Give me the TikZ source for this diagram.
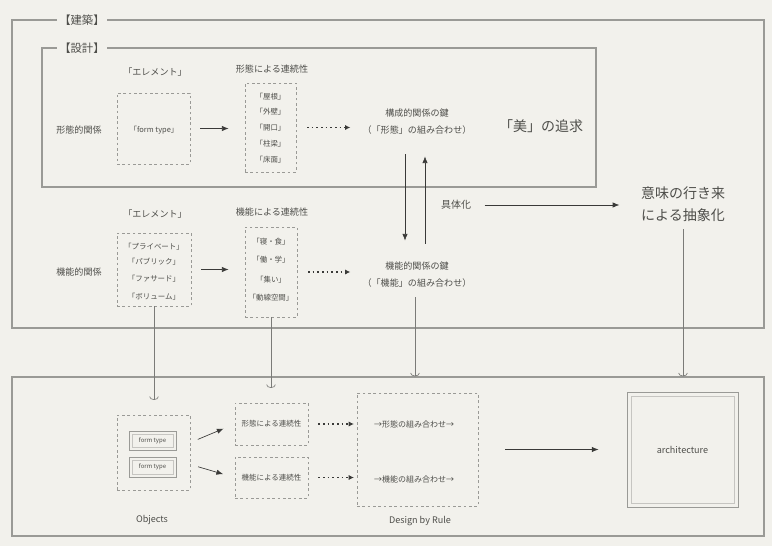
\documentclass[tikz,border=0pt]{standalone}
\usepackage{fontspec}
\setmainfont{Noto Sans CJK JP}
\usetikzlibrary{arrows.meta,fit,calc}
\definecolor{bg}{HTML}{F2F1EC}
\definecolor{frm}{HTML}{9A9A96}
\definecolor{ink}{HTML}{4E4E4A}
\definecolor{dk}{HTML}{3A3A38}
\tikzset{
  frame/.style={draw=frm, line width=1pt, inner sep=0pt},
  lbl/.style={fill=bg, text=ink, font=\fontsize{8.5}{10}\selectfont, inner xsep=2pt, inner ysep=1pt},
  dbox/.style={draw=frm, dash pattern=on 2pt off 2pt, line width=0.6pt, inner sep=0pt},
  obox/.style={draw=frm, line width=0.7pt, inner sep=0pt},
  ibox/.style={draw=frm!50!bg, line width=0.4pt, inner sep=0pt},
  txt/.style={text=ink, font=\fontsize{6.8}{8}\selectfont, inner sep=1pt},
  keytxt/.style={text=ink, font=\fontsize{6.8}{12.75}\selectfont, inner sep=1pt, align=center},
  item/.style={text=ink, font=\fontsize{5.6}{7}\selectfont, inner sep=1pt},
  tinytxt/.style={text=ink, font=\fontsize{4.5}{5}\selectfont, inner sep=0.5pt},
  bigtxt/.style={text=ink, font=\fontsize{10.5}{16.5}\selectfont, align=center, inner sep=1pt},
  arr/.style={draw=dk, line width=0.5pt, -{Latex[length=5pt,width=4pt]}},
  dotarr/.style={draw=dk, line width=1.2pt, dash pattern=on 1.2pt off 2.3pt, -{Latex[length=4pt,width=4pt]}},
  link/.style={draw=frm!80!black, line width=0.5pt, -{Arc Barb[length=2.5pt,width=7pt]}}
}
\begin{document}
\begin{tikzpicture}[x=0.75pt,y=-0.75pt]
\fill[bg] (0,0) rectangle (772,546);
\useasboundingbox (0,0) rectangle (772,546);

% frames
\node[frame, fit={(12,20)(764,328)}] (outer) {};
\node[lbl] (outerlbl) at (82,20) {【建築】};
\node[frame, fit={(42,48)(596,187)}] (inner) {};
\node[lbl] (innerlbl) at (82,48) {【設計】};
\node[frame, fit={(12,377)(764,536)}] (bottom) {};

% row 1
\node[txt] (rel1) at (79,130) {形態的関係};
\node[txt] (el1h) at (155,72) {「エレメント」};
\node[dbox, fit={(117,93)(190,164)}] (el1) {};
\node[item] (ft1) at (154,130) {「form type」};
\node[txt] (seq1h) at (272,69) {形態による連続性};
\node[dbox, fit={(245,83)(296,172)}] (seq1) {};
\node[item] (s1a) at (270.5,97) {「屋根」};
\node[item] (s1b) at (270.5,112) {「外壁」};
\node[item] (s1c) at (270.5,128) {「開口」};
\node[item] (s1d) at (270.5,144) {「柱梁」};
\node[item] (s1e) at (270.5,160) {「床面」};
\draw[arr, shorten <=7.5pt, shorten >=12pt] (el1.east) -- (el1.east -| seq1.west);
\node[keytxt] (key1) at (417,122) {構成的関係の鍵\\（「形態」の組み合わせ）};
\draw[dotarr, shorten <=8pt, shorten >=8pt] (seq1.east) -- (seq1.east -| key1.west);
\node[bigtxt] (beauty) at (541,126) {「美」の追求};

% row 2
\node[txt] (rel2) at (79,272) {機能的関係};
\node[txt] (el2h) at (155,214) {「エレメント」};
\node[dbox, fit={(117,233)(191,306)}] (el2) {};
\node[item] (e2a) at (154,247) {「プライベート」};
\node[item] (e2b) at (154,262) {「パブリック」};
\node[item] (e2c) at (154,279) {「ファサード」};
\node[item] (e2d) at (154,297) {「ボリューム」};
\node[txt] (seq2h) at (272,212) {機能による連続性};
\node[dbox, fit={(245,227)(297,317)}] (seq2) {};
\node[item] (s2a) at (271,242) {「寝・食」};
\node[item] (s2b) at (271,260) {「働・学」};
\node[item] (s2c) at (271,280) {「集い」};
\node[item] (s2d) at (271,298) {「動線空間」};
\draw[arr, shorten <=7.5pt, shorten >=12pt] (el2.east) -- (el2.east -| seq2.west);
\node[keytxt] (key2) at (417,275) {機能的関係の鍵\\（「機能」の組み合わせ）};
\draw[dotarr, shorten <=8pt, shorten >=8pt] (seq2.east) -- (seq2.east -| key2.west);

% vertical arrows between keys
\draw[arr] ($(key1.south)+(-12,18)$) -- ($(key2.north)+(-12,-20)$);
\draw[arr] ($(key2.north)+(8,-17)$) -- ($(key1.south)+(8,20)$);

% concretization / abstraction
\node[txt, font=\fontsize{7.5}{9}\selectfont] (concr) at (456,205) {具体化};
\node[bigtxt] (abs) at (683,204) {意味の行き来\\による抽象化};
\draw[arr, shorten <=9pt, shorten >=15pt] (concr.east) -- (concr.east -| abs.west);

% bottom frame contents
\node[dbox, fit={(117,415)(190,490)}] (objs) {};
\node[obox, fit={(129,431)(176,450)}] (o1) {};
\node[ibox, fit={(132,434)(173,447)}] (o1i) {};
\node[tinytxt] (o1t) at (o1.center) {form type};
\node[obox, fit={(129,457)(176,477)}] (o2) {};
\node[ibox, fit={(132,460)(173,474)}] (o2i) {};
\node[tinytxt] (o2t) at (o2.center) {form type};
\node[txt] (objl) at (152,520) {Objects};

\node[dbox, fit={(235,403)(308,445)}] (b1) {};
\node[item] (b1t) at (b1.center) {形態による連続性};
\node[dbox, fit={(235,457)(308,498)}] (b2) {};
\node[item] (b2t) at (b2.center) {機能による連続性};
\draw[arr, shorten <=6pt, shorten >=9pt] ($(objs.east)+(0,-10)$) -- (b1.west);
\draw[arr, shorten <=6pt, shorten >=9pt] ($(objs.east)+(0,12)$) -- (b2.west);

\node[dbox, fit={(357,393)(478,506)}] (rule) {};
\node[item, font=\fontsize{6}{7}\selectfont] (r1) at (414,424) {→形態の組み合わせ→};
\node[item, font=\fontsize{6}{7}\selectfont] (r2) at (414,479) {→機能の組み合わせ→};
\node[txt] (rulel) at (420,521) {Design by Rule};
\draw[dotarr, shorten <=7.5pt, shorten >=2pt] (b1.east) -- (b1.east -| rule.west);
\draw[dotarr, shorten <=7.5pt, shorten >=2pt] (b2.east) -- (b2.east -| rule.west);

\node[obox, fit={(627,392)(738,507)}] (arch) {};
\node[ibox, fit={(631,396)(734,503)}] (archi) {};
\node[txt] (archt) at (arch.center) {architecture};
\draw[arr, shorten <=20pt, shorten >=21pt] (rule.east) -- (rule.east -| arch.west);

% links down to the objects
\draw[link, shorten >=11pt] (el2.south) -- (el2.south |- objs.north);
\draw[link, shorten >=11pt] (seq2.south) -- (seq2.south |- b1.north);
\draw[link] ($(key2.south)+(-2,8)$) -- ($(key2.south |- bottom.north)+(-2,0)$);
\draw[link] ($(abs.south)+(0,6)$) -- (abs.south |- bottom.north);
\end{tikzpicture}
\end{document}
